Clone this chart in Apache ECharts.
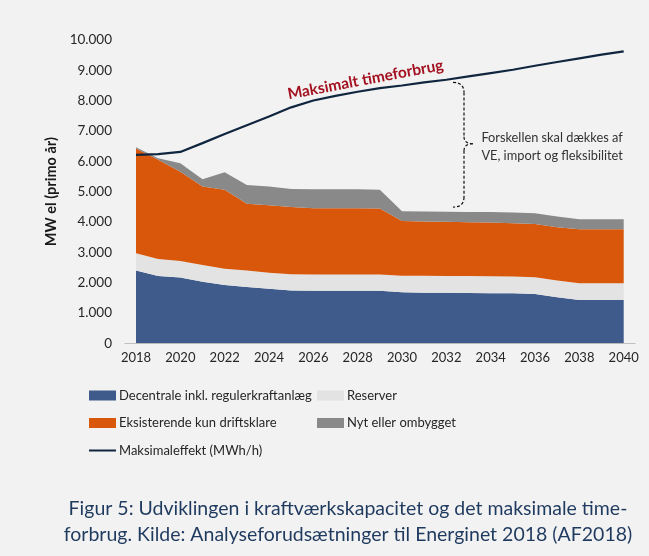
<!DOCTYPE html>
<html>
<head>
<meta charset="utf-8">
<script src="https://cdn.jsdelivr.net/npm/echarts@6/dist/echarts.min.js"></script>
<style>
  html, body { margin: 0; padding: 0; background: #f2f2f2; }
  #main { width: 649px; height: 556px; }
</style>
</head>
<body>
<div id="main"></div>
<script>
var years = ['2018', '2019', '2020', '2021', '2022', '2023', '2024', '2025', '2026', '2027', '2028', '2029',
             '2030', '2031', '2032', '2033', '2034', '2035', '2036', '2037', '2038', '2039', '2040'];
var decentrale = [2400, 2220, 2170, 2030, 1920, 1860, 1800, 1740, 1730, 1730, 1730, 1730,
                  1680, 1670, 1665, 1660, 1650, 1650, 1625, 1520, 1430, 1430, 1430];
var reserver = [570, 560, 540, 550, 540, 540, 530, 540, 535, 535, 535, 535,
                550, 555, 555, 555, 560, 550, 555, 550, 550, 550, 550];
var eksisterende = [3450, 3270, 2950, 2590, 2600, 2200, 2220, 2210, 2190, 2190, 2190, 2180,
                    1805, 1790, 1785, 1780, 1770, 1760, 1755, 1760, 1780, 1780, 1780];
var nyt = [40, 55, 280, 240, 580, 620, 620, 600, 625, 625, 625, 615,
           320, 330, 335, 335, 345, 350, 355, 350, 330, 330, 330];
var maksimal = [6215, 6240, 6310, 6600, 6900, 7190, 7480, 7780, 8005, 8160, 8295, 8415,
                8500, 8600, 8690, 8800, 8910, 9020, 9150, 9275, 9395, 9515, 9625];

var FONT = 'Lato';

function area(name, color, arr) {
  return {
    name: name,
    type: 'line',
    stack: 'kap',
    symbol: 'none',
    data: arr,
    itemStyle: { color: color },
    lineStyle: { width: 0, color: color },
    areaStyle: { color: color, opacity: 1 }
  };
}

var chart = echarts.init(document.getElementById('main'));

var legendText = { fontFamily: FONT, fontSize: 13, color: '#262626', padding: [0, 0, 0, -2] };

var option = {
  backgroundColor: '#f2f2f2',
  animation: false,
  textStyle: { fontFamily: FONT },
  title: {
    text: 'Figur 5: Udviklingen i kraftværkskapacitet og det maksimale time-\nforbrug. Kilde: Analyseforudsætninger til Energinet 2018 (AF2018)',
    left: 343,
    textAlign: 'center',
    top: 491,
    textStyle: { fontFamily: FONT, fontSize: 19.5, fontWeight: 'normal', color: '#1f3a5f', lineHeight: 26 }
  },
  grid: [
    { left: 136, right: 25.3, top: 40, bottom: 212.7 },
    { left: 125, right: 14, top: 40, bottom: 212.7 }
  ],
  legend: [{
    orient: 'vertical',
    left: 83,
    top: 384,
    itemWidth: 27,
    itemHeight: 10,
    itemGap: 14.5,
    textStyle: legendText,
    data: [
      { name: 'Decentrale inkl. regulerkraftanlæg', icon: 'rect' },
      { name: 'Eksisterende kun driftsklare', icon: 'rect' },
      { name: 'Maksimaleffekt (MWh/h)', itemStyle: { opacity: 0 } }
    ]
  }, {
    orient: 'vertical',
    left: 312,
    top: 384,
    itemWidth: 27,
    itemHeight: 10,
    itemGap: 14.5,
    textStyle: legendText,
    data: [
      { name: 'Reserver', icon: 'rect' },
      { name: 'Nyt eller ombygget', icon: 'rect' }
    ]
  }],
  xAxis: [{
    type: 'category',
    gridIndex: 0,
    data: years,
    boundaryGap: false,
    axisTick: { show: false },
    axisLine: { show: false },
    axisLabel: {
      interval: 1,
      fontFamily: FONT,
      fontSize: 13,
      color: '#262626',
      margin: 8
    }
  }, {
    // plain axis line, a little wider than the data span
    type: 'value',
    gridIndex: 1,
    min: 0,
    max: 1,
    splitLine: { show: false },
    axisTick: { show: false },
    axisLabel: { show: false },
    axisLine: { show: true, lineStyle: { color: '#bfbfbf', width: 1 } }
  }],
  yAxis: [{
    type: 'value',
    gridIndex: 0,
    min: 0,
    max: 10000,
    interval: 1000,
    name: 'MW el (primo år)',
    nameLocation: 'middle',
    nameGap: 62,
    nameTextStyle: { fontFamily: FONT, fontSize: 14.5, fontWeight: 'bold', color: '#1a1a1a' },
    splitLine: { show: false },
    axisTick: { show: false },
    axisLine: { show: false },
    axisLabel: {
      fontFamily: FONT,
      fontSize: 13.5,
      color: '#262626',
      margin: 24,
      formatter: function (v) { return String(v).replace(/\B(?=(\d{3})+(?!\d))/g, '.'); }
    }
  }, {
    type: 'value',
    gridIndex: 1,
    show: false
  }],
  series: [
    area('Decentrale inkl. regulerkraftanlæg', '#3f5b8b', decentrale),
    area('Reserver', '#e3e3e3', reserver),
    area('Eksisterende kun driftsklare', '#d9570a', eksisterende),
    area('Nyt eller ombygget', '#898989', nyt),
    {
      name: 'Maksimaleffekt (MWh/h)',
      type: 'line',
      symbol: 'none',
      data: maksimal,
      itemStyle: { color: '#10263f' },
      lineStyle: { width: 2.2, color: '#10263f' },
      z: 5
    }
  ]
};

chart.setOption(option);

// annotations placed from data coordinates (fractional year, MW)
var xa = chart.convertToPixel({ xAxisIndex: 0 }, years[0]);
var xb = chart.convertToPixel({ xAxisIndex: 0 }, years[years.length - 1]);
function px(yr, v) {
  return [xa + (yr - 2018) * (xb - xa) / 22, chart.convertToPixel({ yAxisIndex: 0 }, v)];
}

var lbl = px(2028.35, 8690);
var bTop = px(2032.3, 8600);
var bBot = px(2032.3, 4490);
var bTip = px(2033.2, 6580);
var x0 = bTop[0];
var vx = x0 + 11;
var xt = bTip[0];
var yT = bTop[1], yB = bBot[1], yM = bTip[1];
function brace() { return { stroke: '#111', lineWidth: 1.2, lineDash: [3, 2], fill: 'none' }; }

var txt = px(2033.58, 6480);

chart.setOption({
  graphic: [
    {
      type: 'text',
      x: lbl[0], y: lbl[1],
      rotation: 0.187,
      z: 10,
      style: {
        text: 'Maksimalt timeforbrug',
        fill: '#a3101f',
        font: 'bold 15.5px ' + FONT,
        textAlign: 'center',
        textVerticalAlign: 'middle'
      }
    },
    { type: 'bezierCurve', z: 10, shape: { x1: x0, y1: yT, cpx1: vx, cpy1: yT, x2: vx, y2: yT + 10 }, style: brace() },
    { type: 'line', z: 10, shape: { x1: vx, y1: yT + 10, x2: vx, y2: yM - 7 }, style: brace() },
    { type: 'bezierCurve', z: 10, shape: { x1: vx, y1: yM - 7, cpx1: vx, cpy1: yM, x2: xt, y2: yM }, style: brace() },
    { type: 'bezierCurve', z: 10, shape: { x1: xt, y1: yM, cpx1: vx, cpy1: yM, x2: vx, y2: yM + 7 }, style: brace() },
    { type: 'line', z: 10, shape: { x1: vx, y1: yM + 7, x2: vx, y2: yB - 10 }, style: brace() },
    { type: 'bezierCurve', z: 10, shape: { x1: vx, y1: yB - 10, cpx1: vx, cpy1: yB, x2: x0, y2: yB }, style: brace() },
    {
      type: 'text',
      x: txt[0], y: txt[1],
      z: 10,
      style: {
        text: 'Forskellen skal dækkes af\nVE, import og fleksibilitet',
        fill: '#333333',
        font: '12.8px ' + FONT,
        lineHeight: 18,
        textAlign: 'left',
        textVerticalAlign: 'middle'
      }
    }
  ]
});
</script>
</body>
</html>
